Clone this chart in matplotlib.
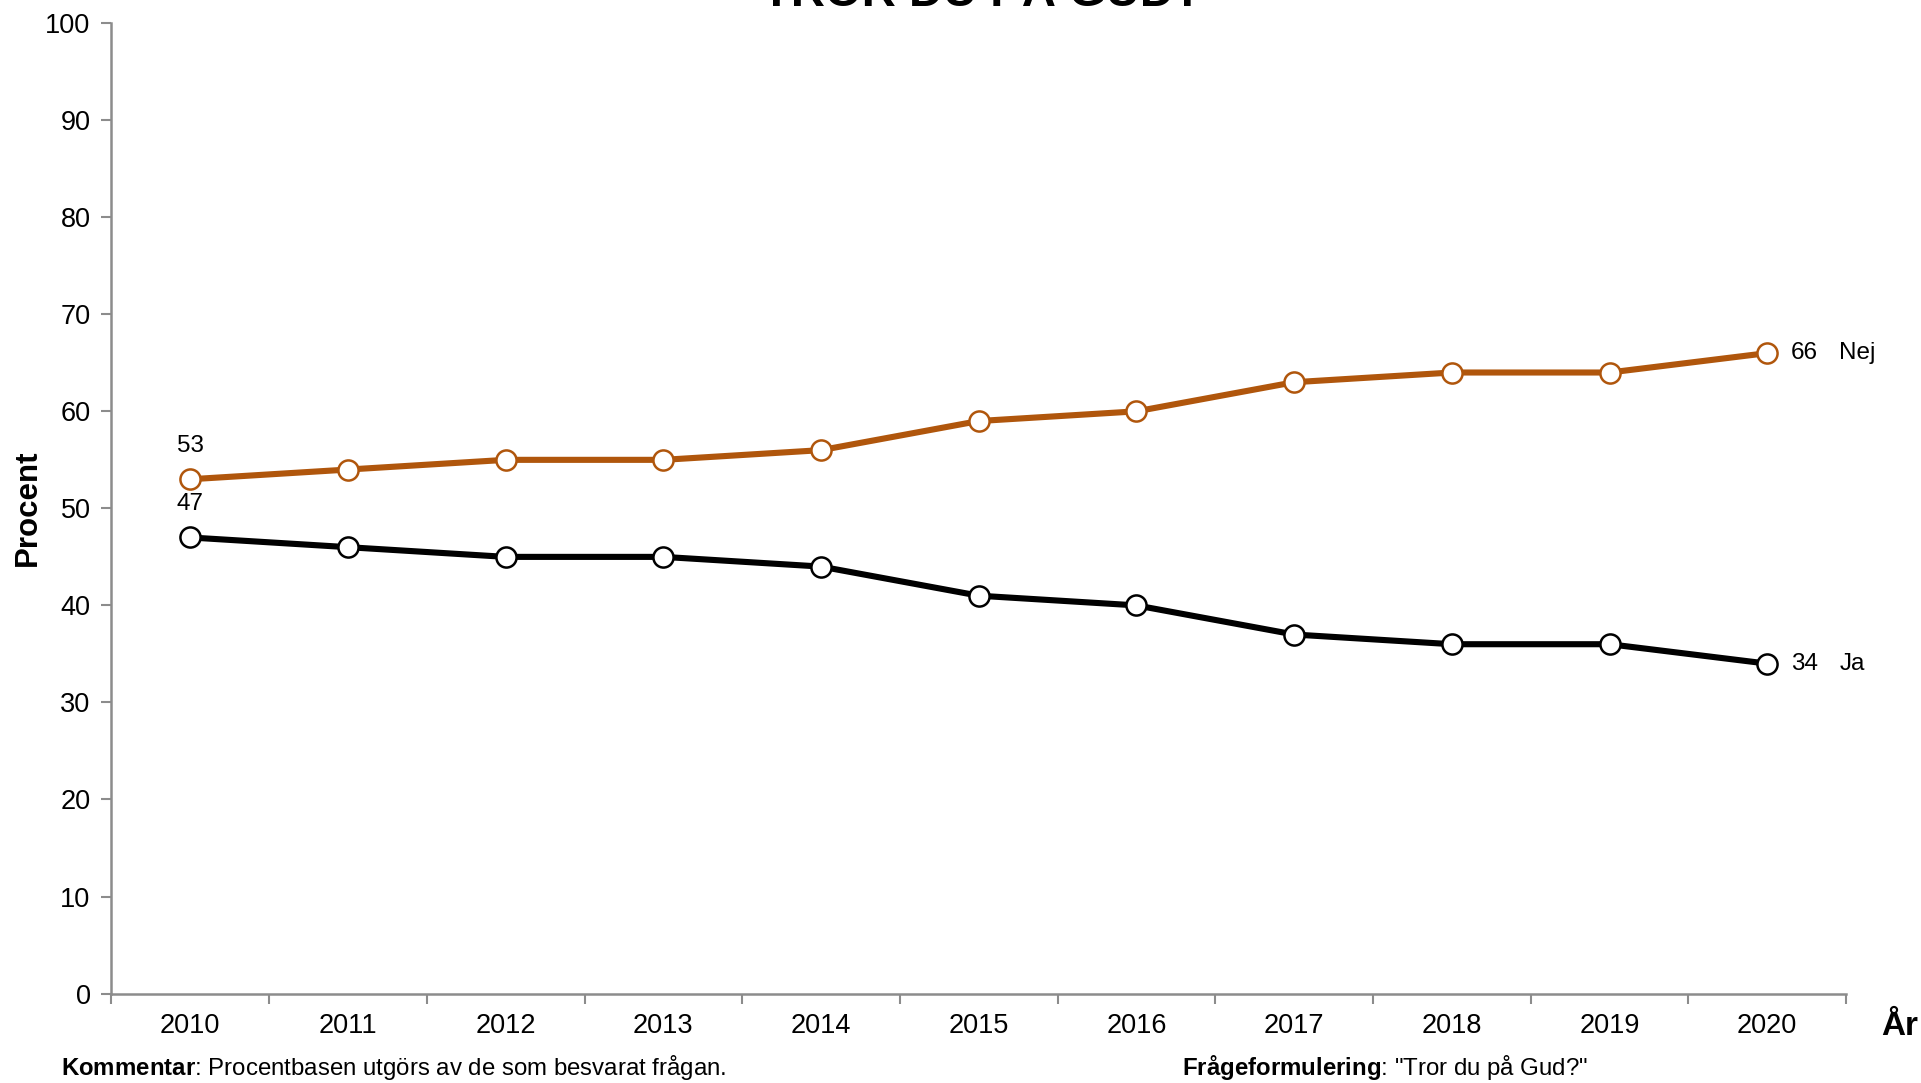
import numpy as np
import matplotlib.pyplot as plt

plt.rcParams['font.family'] = ['Liberation Sans', 'DejaVu Sans']
plt.rcParams['mathtext.fontset'] = 'custom'
plt.rcParams['mathtext.rm'] = 'Liberation Sans'
plt.rcParams['mathtext.bf'] = 'Liberation Sans:bold'

# Data
years = ['2010', '2011', '2012', '2013', '2014', '2015', '2016', '2017', '2018', '2019', '2020']
nej = [53, 54, 55, 55, 56, 59, 60, 63, 64, 64, 66]
ja = [47, 46, 45, 45, 44, 41, 40, 37, 36, 36, 34]

orange = '#B0560C'
gray = '#8C8C8C'

fig = plt.figure(figsize=(19.21, 10.83), dpi=100)
ax = fig.add_axes([0.058, 0.0826, 0.903, 0.896])

x = np.arange(len(years))
ax.plot(x, nej, color=orange, lw=4.4, marker='o', ms=14.5,
        mfc='white', mec=orange, mew=1.8, zorder=3)
ax.plot(x, ja, color='black', lw=4.4, marker='o', ms=14.5,
        mfc='white', mec='black', mew=1.8, zorder=3)

# etiketter
ax.annotate(str(nej[0]), (x[0], nej[0]), xytext=(0, 16), textcoords='offset points',
            ha='center', va='bottom', fontsize=17.5)
ax.annotate(str(ja[0]), (x[0], ja[0]), xytext=(0, 16), textcoords='offset points',
            ha='center', va='bottom', fontsize=17.5)
ax.annotate(str(nej[-1]), (x[-1], nej[-1]), xytext=(17, 0), textcoords='offset points',
            ha='left', va='center', fontsize=17.5)
ax.annotate('Nej', (x[-1], nej[-1]), xytext=(52, 0), textcoords='offset points',
            ha='left', va='center', fontsize=17.5)
ax.annotate(str(ja[-1]), (x[-1], ja[-1]), xytext=(17, 0), textcoords='offset points',
            ha='left', va='center', fontsize=17.5)
ax.annotate('Ja', (x[-1], ja[-1]), xytext=(52, 0), textcoords='offset points',
            ha='left', va='center', fontsize=17.5)

ax.set_xlim(-0.5, len(years) - 0.5)
ax.set_ylim(0, 100)
ax.set_yticks(range(0, 101, 10))
ax.tick_params(axis='y', labelsize=19.5, length=7, width=1.5, color=gray, pad=8)

# x-tick markeringar mellan kategorierna, etiketter i mitten
ax.set_xticks(np.arange(-0.5, len(years)), minor=False)
ax.set_xticklabels([])
ax.set_xticks(x, minor=True)
ax.set_xticklabels(years, minor=True)
ax.tick_params(axis='x', which='major', length=7, width=1.5, color=gray)
ax.tick_params(axis='x', which='minor', length=0, labelsize=19.5, pad=14)

for s in ['top', 'right']:
    ax.spines[s].set_visible(False)
for s in ['left', 'bottom']:
    ax.spines[s].set_color(gray)
    ax.spines[s].set_linewidth(1.8)

fig.text(0.0145, 0.531, 'Procent', rotation=90, ha='center', va='center',
         fontsize=22.5, fontweight='bold')
fig.text(0.9985, 0.0525, 'År', ha='right', va='center', fontsize=24, fontweight='bold')
fig.text(0.5115, 0.9945, 'TROR DU PÅ GUD?', ha='center', va='baseline',
         fontsize=34, fontweight='bold')

fig.text(0.032, 0.001, r'$\bf{Kommentar}$: Procentbasen utgörs av de som besvarat frågan.',
         fontsize=17.3, va='bottom')
fig.text(0.6155, 0.001, r'$\bf{Frågeformulering}$: "Tror du på Gud?"',
         fontsize=17.3, va='bottom')

fig.savefig('out.png', dpi=100)
